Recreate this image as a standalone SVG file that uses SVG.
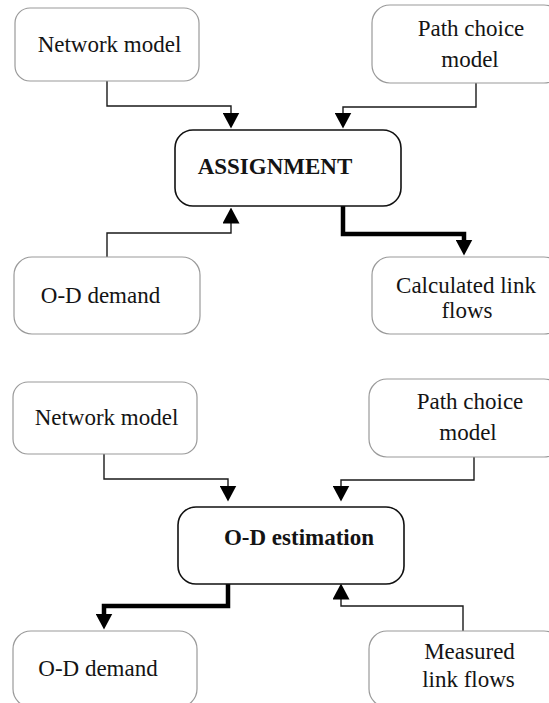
<svg xmlns="http://www.w3.org/2000/svg" width="549" height="703" viewBox="0 0 549 703">
<style>
  .box { fill: #ffffff; stroke: #9a9a9a; stroke-width: 1.2; }
  .main { fill: #ffffff; stroke: #111111; stroke-width: 1.6; }
  .t { font-family: "Liberation Serif", "Times New Roman", serif; font-size: 23px; fill: #141414; text-anchor: middle; }
  .b { font-weight: bold; }
  .thin { fill: none; stroke: #1a1a1a; stroke-width: 1.4; marker-end: url(#arr); }
  .thick { fill: none; stroke: #000000; stroke-width: 4.5; stroke-linejoin: miter; marker-end: url(#arr); }
</style>
<defs>
  <marker id="arr" markerUnits="userSpaceOnUse" markerWidth="16" markerHeight="17" viewBox="0 0 16 17" refX="0.5" refY="8.5" orient="auto">
    <path d="M0,0 L16,8.5 L0,17 Z" fill="#000000"/>
  </marker>
</defs>
<rect width="549" height="703" fill="#ffffff"/>

<g id="connectors">
  <path class="thin" d="M107,81 V106 H231 V113"/>
  <path class="thin" d="M476,83 V107 H343 V113"/>
  <path class="thin" d="M107,257 V233 H231 V223"/>
  <path class="thick" d="M343,206 V234 H464 V240"/>
  <path class="thin" d="M104,454 V479 H228 V486"/>
  <path class="thin" d="M474,457 V480 H341 V486"/>
  <path class="thick" d="M228,584 V606 H104 V614"/>
  <path class="thin" d="M463,631 V606 H341 V599"/>
</g>

<g id="network-model-1">
  <rect class="box" x="15" y="8" width="184" height="73" rx="15"/>
  <text class="t" x="109.5" y="52">Network model</text>
</g>
<g id="path-choice-1">
  <rect class="box" x="372" y="5" width="190" height="78" rx="18"/>
  <text class="t" x="471" y="36">Path choice</text>
  <text class="t" x="470" y="67">model</text>
</g>
<g id="assignment">
  <rect class="main" x="175" y="130" width="226" height="76" rx="18"/>
  <text class="t b" x="275" y="174">ASSIGNMENT</text>
</g>
<g id="od-demand-1">
  <rect class="box" x="14" y="257" width="186" height="77" rx="18"/>
  <text class="t" x="100.5" y="303">O-D demand</text>
</g>
<g id="calculated-link-flows">
  <rect class="box" x="372" y="257" width="190" height="77" rx="18"/>
  <text class="t" x="466" y="293">Calculated link</text>
  <text class="t" x="467" y="318">flows</text>
</g>

<g id="network-model-2">
  <rect class="box" x="13" y="382" width="184" height="72" rx="15"/>
  <text class="t" x="106.5" y="425">Network model</text>
</g>
<g id="path-choice-2">
  <rect class="box" x="369" y="379" width="193" height="78" rx="18"/>
  <text class="t" x="470" y="409">Path choice</text>
  <text class="t" x="468" y="440">model</text>
</g>
<g id="od-estimation">
  <rect class="main" x="178" y="507" width="226" height="77" rx="18"/>
  <text class="t b" x="299" y="545">O-D estimation</text>
</g>
<g id="od-demand-2">
  <rect class="box" x="13" y="631" width="184" height="76" rx="18"/>
  <text class="t" x="98" y="676">O-D demand</text>
</g>
<g id="measured-link-flows">
  <rect class="box" x="369" y="631" width="193" height="76" rx="18"/>
  <text class="t" x="469.5" y="659">Measured</text>
  <text class="t" x="468.5" y="687">link flows</text>
</g>
</svg>
